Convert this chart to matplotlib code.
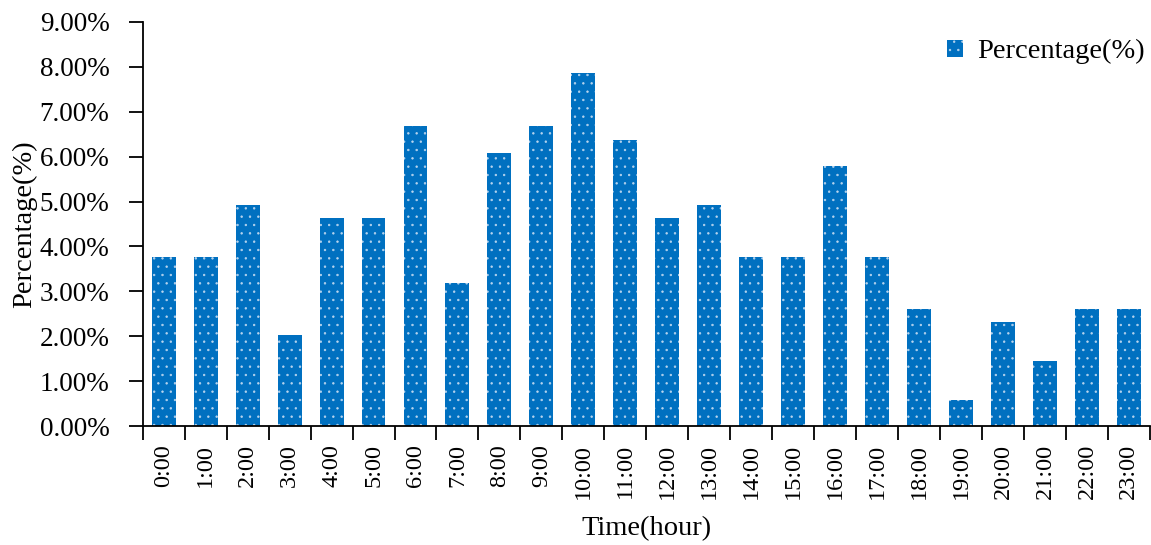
import numpy as np
import matplotlib
matplotlib.use("Agg")
import matplotlib.pyplot as plt
from matplotlib.ticker import FuncFormatter, MultipleLocator

hours = [f"{h}:00" for h in range(24)]
percentages = [3.77, 3.77, 4.93, 2.03, 4.64, 4.64, 6.67, 3.19, 6.09, 6.67, 7.85, 6.38,
               4.64, 4.93, 3.77, 3.77, 5.80, 3.77, 2.61, 0.58, 2.32, 1.45, 2.61, 2.61]

plt.rcParams["font.family"] = ["Liberation Serif", "DejaVu Serif"]
plt.rcParams["hatch.linewidth"] = 0.5

fig = plt.figure(figsize=(11.51, 5.45), dpi=100)
ax = fig.add_axes([0.124, 0.218, 0.875, 0.742])

x = np.arange(len(hours))
ax.bar(x, percentages, width=0.57, color="#0070C0", edgecolor="#b8d4ee", linewidth=0,
       hatch="..", label="Percentage(%)")

ax.set_xlim(-0.5, len(hours) - 0.5)
ax.set_ylim(0, 9)
ax.yaxis.set_major_locator(MultipleLocator(1))
ax.yaxis.set_major_formatter(FuncFormatter(lambda v, p: f"{v:.2f}%"))
ax.set_xticks(x)
ax.set_xticklabels(hours, rotation=90)
ax.set_xticks(np.arange(-0.5, len(hours)), minor=True)
ax.tick_params(axis="x", which="major", length=0, labelsize=17.5, pad=13)
ax.tick_params(axis="x", which="minor", length=10, width=1.3)
ax.tick_params(axis="y", length=10, width=1.3, labelsize=19.5, pad=14)

for side in ["top", "right"]:
    ax.spines[side].set_visible(False)
ax.spines["left"].set_linewidth(1.3)
ax.spines["bottom"].set_linewidth(1.3)

ax.set_xlabel("Time(hour)", fontsize=20.5)
ax.xaxis.set_label_coords(0.5, -0.222)
ax.set_ylabel("Percentage(%)", fontsize=20.5, labelpad=2)
ax.legend(loc="upper right", frameon=False, fontsize=20.5, handlelength=0.55,
          handleheight=0.55, handletextpad=0.5, bbox_to_anchor=(1.02, 1.02))

fig.savefig("out.png", dpi=100)
